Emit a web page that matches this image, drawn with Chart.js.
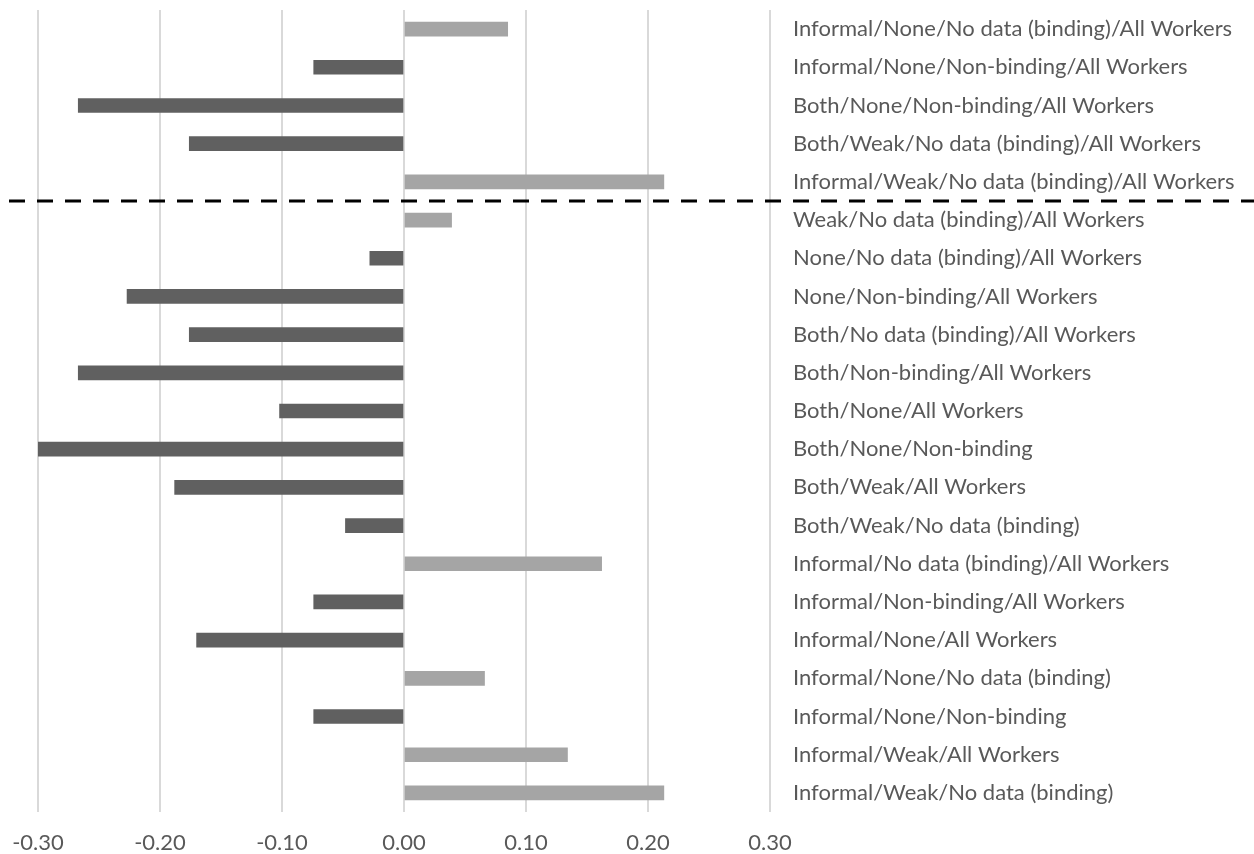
<!DOCTYPE html>
<html>
<head>
<meta charset="utf-8">
<script src="https://cdn.jsdelivr.net/npm/chart.js@4/dist/chart.umd.min.js"></script>
<style>
  body { margin: 0; background: #fff; }
  #wrap { width: 1254px; height: 854px; }
</style>
</head>
<body>
<div id="wrap"><canvas id="chart" width="1254" height="854"></canvas></div>
<script>
// categories, top to bottom as in the picture
var categories = [
  'Informal/None/No data (binding)/All Workers',
  'Informal/None/Non-binding/All Workers',
  'Both/None/Non-binding/All Workers',
  'Both/Weak/No data (binding)/All Workers',
  'Informal/Weak/No data (binding)/All Workers',
  'Weak/No data (binding)/All Workers',
  'None/No data (binding)/All Workers',
  'None/Non-binding/All Workers',
  'Both/No data (binding)/All Workers',
  'Both/Non-binding/All Workers',
  'Both/None/All Workers',
  'Both/None/Non-binding',
  'Both/Weak/All Workers',
  'Both/Weak/No data (binding)',
  'Informal/No data (binding)/All Workers',
  'Informal/Non-binding/All Workers',
  'Informal/None/All Workers',
  'Informal/None/No data (binding)',
  'Informal/None/Non-binding',
  'Informal/Weak/All Workers',
  'Informal/Weak/No data (binding)'
];

var values = [
  0.085, -0.074, -0.267, -0.176, 0.213,
  0.039, -0.028, -0.227, -0.176, -0.267,
  -0.102, -0.300, -0.188, -0.048, 0.162,
  -0.074, -0.170, 0.066, -0.074, 0.134,
  0.213
];

var xTicks = [-0.30, -0.20, -0.10, 0.00, 0.10, 0.20, 0.30];

// the dashed separator sits after this many rows
var splitAfter = 5;

var negColor = '#606060';
var posColor = '#a5a5a5';

// dashed line across the whole picture between the two groups
var splitLine = {
  id: 'splitLine',
  afterDraw: function(chart){
    var y = chart.scales.y;
    var py = (y.getPixelForValue(splitAfter - 1) + y.getPixelForValue(splitAfter)) / 2;
    var ctx = chart.ctx;
    ctx.save();
    ctx.strokeStyle = '#000';
    ctx.lineWidth = 3;
    ctx.setLineDash([16, 12]);
    ctx.beginPath();
    ctx.moveTo(9, py);
    ctx.lineTo(chart.width, py);
    ctx.stroke();
    ctx.restore();
  }
};

Chart.defaults.font.family = 'Lato, "Open Sans", sans-serif';
Chart.defaults.font.size = 22;
Chart.defaults.color = '#595959';

new Chart(document.getElementById('chart'), {
  type: 'bar',
  data: {
    labels: categories,
    datasets: [{
      data: values,
      backgroundColor: function(c){ return c.raw < 0 ? negColor : posColor; },
      barThickness: 14,
      borderWidth: 0
    }]
  },
  options: {
    indexAxis: 'y',
    responsive: false,
    animation: false,
    layout: { padding: { left: 38, top: 10, right: 0, bottom: 0 } },
    plugins: { legend: { display: false }, tooltip: { enabled: false } },
    scales: {
      x: {
        min: -0.3,
        max: 0.3,
        afterBuildTicks: function(scale){
          scale.ticks = xTicks.map(function(v){ return { value: v }; });
        },
        afterFit: function(scale){
          scale.height = 42;
          scale.paddingLeft = 0;
          scale.paddingRight = 0;
        },
        ticks: {
          padding: 18,
          callback: function(v){ return Number(v).toFixed(2); }
        },
        grid: { color: '#d9d9d9', lineWidth: 2, drawTicks: false },
        border: { display: false }
      },
      y: {
        position: 'right',
        afterFit: function(scale){
          scale.width = 484;
          scale.paddingTop = 0;
          scale.paddingBottom = 0;
        },
        ticks: { padding: 23 },
        grid: { display: false, drawTicks: false },
        border: { display: false }
      }
    }
  },
  plugins: [splitLine]
});
</script>
</body>
</html>
